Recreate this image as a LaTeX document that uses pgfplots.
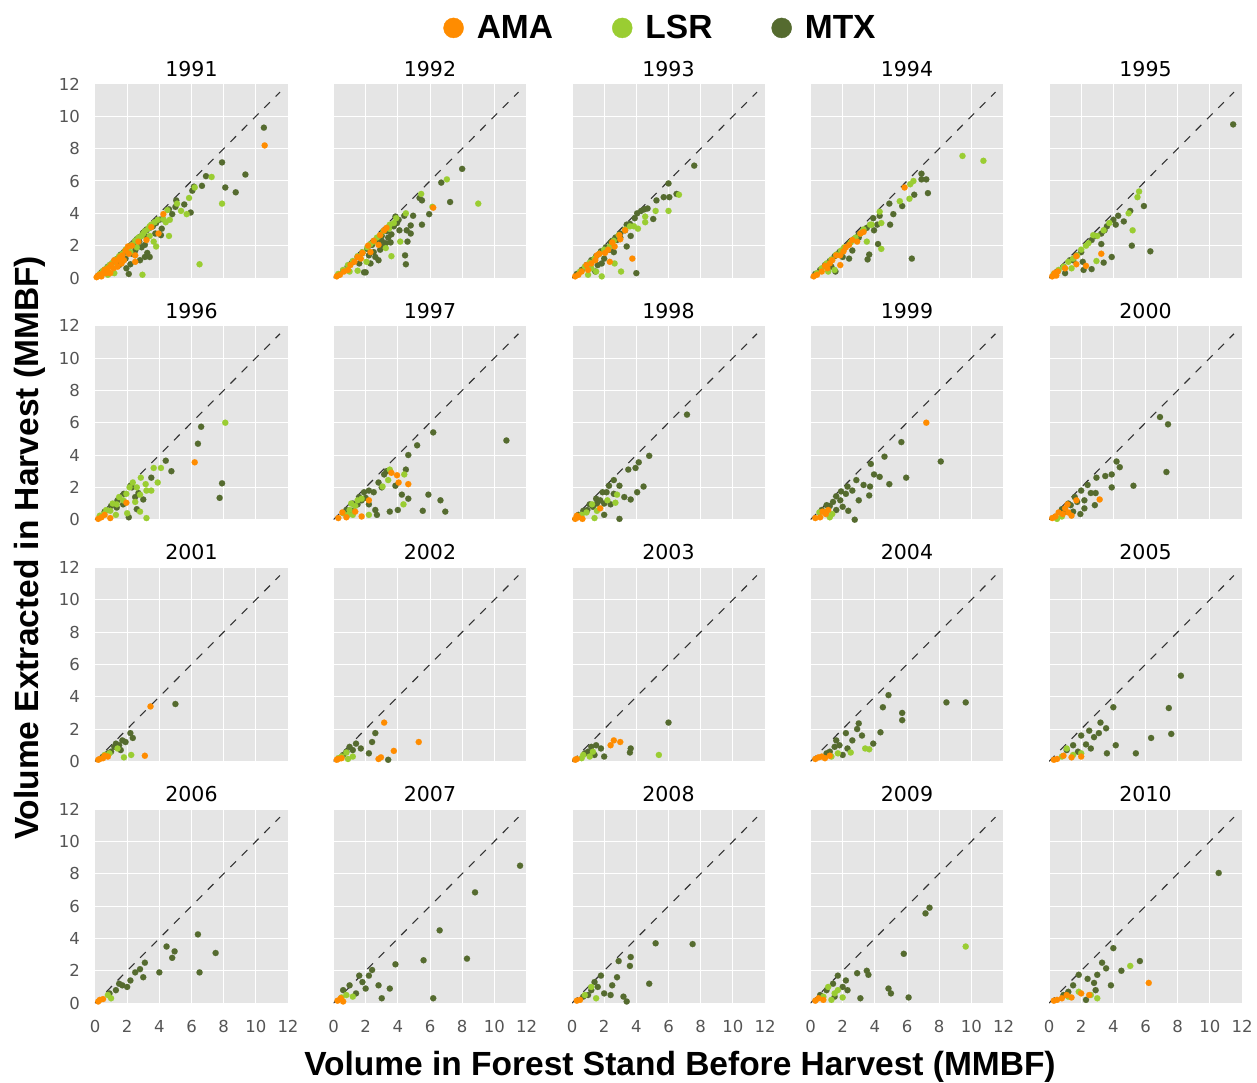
\documentclass[border=0pt]{standalone}
\usepackage{fontspec}
\setmainfont{DejaVu Sans}
\newfontfamily\labfont{Liberation Sans}
\usepackage{pgfplots}
\pgfplotsset{compat=1.18}
\usepgfplotslibrary{groupplots}
\definecolor{amac}{HTML}{FF8C00}
\definecolor{lsrc}{HTML}{9ACD32}
\definecolor{mtxc}{HTML}{556B2F}
\definecolor{bgc}{HTML}{E5E5E5}
\definecolor{tickc}{HTML}{555555}
\pgfplotsset{
  ama/.style={only marks, mark=*, mark size=3.1pt, color=amac, line width=0.1pt},
  lsr/.style={only marks, mark=*, mark size=3.1pt, color=lsrc, line width=0.1pt},
  mtx/.style={only marks, mark=*, mark size=3.1pt, color=mtxc, line width=0.1pt},
  diag/.style={no marks, color=black!80, line width=1.1pt, dash pattern=on 8pt off 8pt},
}
\newcommand\yr[4]{%
  \nextgroupplot[title={#1}]
  \addplot[mtx] coordinates {#4};
  \addplot[lsr] coordinates {#3};
  \addplot[ama] coordinates {#2};
  \addplot[diag] coordinates {(0,0) (11.5,11.5)};
}
\begin{document}
\begin{tikzpicture}
\begin{groupplot}[
  group style={group size=5 by 4, horizontal sep=45.5pt, vertical sep=47.7pt,
    xticklabels at=edge bottom, yticklabels at=edge left},
  width=193pt, height=194pt, scale only axis,
  xmin=0, xmax=12, ymin=0, ymax=12,
  xtick={0,2,...,12}, ytick={0,2,...,12},
  axis background/.style={fill=bgc},
  axis line style={draw=none},
  major tick length=0pt,
  xmajorgrids, ymajorgrids,
  grid style={white, line width=1pt},
  tick label style={font=\fontsize{16.5}{19}\selectfont, text=tickc, inner sep=0pt},
  /pgf/number format/assume math mode=true,
  yticklabel style={xshift=-15pt},
  xticklabel style={yshift=-17pt},
  title style={at={(0.5,1)}, anchor=base, yshift=1.5pt, inner sep=0pt,
    font=\fontsize{20.5}{24}\selectfont},
]
\yr{1991}
{(10.55,8.2)(4.25,3.95)(3.5,3.15)(3.95,2.75)(3.2,2.35)(2.7,2.25)(2.05,1.95)(2.5,1.4)(1.55,1.3)(1.65,0.9)(2.5,1.0)(0.75,0.5)(0.3,0.2)(1.15,0.6)(0.95,0.3)(0.1,0.05)(0.2,0.15)(0.5,0.3)(0.6,0.5)(0.8,0.6)(1.0,0.8)(1.3,1.0)(1.5,1.2)(1.7,1.4)(1.9,1.7)(2.1,1.5)(0.4,0.1)(0.7,0.3)(1.4,0.7)(1.2,1.1)(2.3,2.0)(1.8,1.1)}
{(7.25,6.25)(7.9,4.6)(6.5,0.85)(5.85,4.95)(5.1,4.6)(5.7,3.95)(5.35,4.15)(4.6,2.6)(4.4,3.45)(4.65,3.6)(4.25,3.65)(3.8,1.95)(3.65,2.25)(2.95,0.2)(3.4,3.2)(3.0,2.75)(0.3,0.25)(0.5,0.45)(0.7,0.6)(0.9,0.8)(1.1,0.95)(1.3,1.15)(1.5,1.35)(1.7,1.5)(1.9,1.75)(2.1,1.9)(2.3,2.05)(2.5,2.3)(2.7,2.5)(2.9,2.6)(3.1,2.9)(3.3,3.05)(3.5,3.3)(3.7,3.45)(3.9,3.6)(3.4,2.6)(2.6,1.9)(2.2,1.6)(1.2,0.3)(0.8,0.2)(4.5,4.2)(6.2,5.6)}
{(10.5,9.3)(7.9,7.15)(9.35,6.4)(6.9,6.3)(6.65,5.7)(6.15,5.65)(6.05,5.4)(8.1,5.6)(8.75,5.3)(5.05,4.8)(5.55,4.55)(5.0,4.4)(5.95,4.05)(4.8,3.95)(4.6,4.25)(4.2,3.65)(4.15,3.05)(4.1,2.65)(3.75,2.75)(3.2,2.55)(2.75,2.25)(3.1,2.05)(3.25,1.55)(3.4,1.3)(3.1,1.3)(2.8,1.1)(2.2,0.85)(2.1,0.25)(1.95,0.6)(0.2,0.15)(0.4,0.35)(0.6,0.5)(0.8,0.7)(1.0,0.85)(1.2,1.05)(1.4,1.2)(1.6,1.45)(1.8,1.6)(2.0,1.8)(2.2,2.0)(2.4,2.15)(2.6,2.4)(2.8,2.55)(3.0,2.8)(3.2,2.95)(3.4,3.1)(3.6,3.2)(3.8,3.4)(4.0,3.6)(2.5,1.7)(2.9,1.9)(1.9,1.2)(2.3,1.5)(1.5,0.8)}
\yr{1992}
{(6.2,4.35)(3.15,2.95)(2.9,2.65)(2.15,2.0)(2.3,1.6)(1.8,1.55)(2.8,2.05)(1.05,0.8)(0.65,0.4)(0.4,0.2)(0.2,0.1)(1.5,1.3)(1.3,1.0)(0.9,0.5)(2.5,2.3)(1.7,1.2)(3.3,3.1)}
{(9.0,4.6)(7.05,6.1)(5.45,5.2)(6.15,4.4)(4.5,4.0)(4.15,2.25)(3.6,1.35)(3.25,1.85)(3.75,3.4)(3.45,3.05)(2.9,2.65)(2.5,2.25)(2.1,1.9)(1.5,0.45)(2.05,1.0)(0.3,0.25)(0.6,0.5)(0.9,0.8)(1.2,1.05)(1.5,1.35)(1.8,1.6)(2.3,2.1)(2.7,2.5)(3.1,2.9)(3.5,3.3)(3.9,3.7)(1.0,0.4)}
{(8.0,6.75)(6.7,5.9)(7.25,4.7)(5.5,4.8)(5.35,4.95)(5.95,3.95)(5.5,3.3)(4.95,3.85)(4.8,3.25)(4.8,2.75)(4.55,2.95)(4.6,2.25)(4.45,1.4)(4.5,0.85)(4.1,2.95)(4.05,3.6)(4.4,3.85)(3.6,2.7)(3.55,2.2)(3.25,2.15)(2.9,1.75)(2.8,1.1)(2.0,0.35)(1.9,0.35)(2.6,1.3)(3.1,1.95)(3.75,3.2)(3.95,3.4)(3.85,3.8)(0.3,0.2)(0.6,0.45)(0.9,0.75)(1.2,1.0)(1.5,1.3)(1.8,1.55)(2.1,1.8)(2.4,2.05)(2.7,2.3)(3.0,2.6)(3.3,2.9)(3.6,3.2)(2.2,1.4)(2.5,1.6)(3.0,2.3)(1.6,0.9)(2.3,0.9)(3.4,2.5)}
\nextgroupplot[title={1993},
  legend style={at={(0.461,1.289)}, anchor=center, draw=none, fill=none, inner sep=0pt,
    legend columns=3, font=\labfont\bfseries\fontsize{33.5}{40}\selectfont,
    nodes={inner sep=3pt},
    /tikz/every odd column/.append style={column sep=10pt},
    /tikz/every even column/.append style={column sep=56pt}},
  legend cell align=left]
\addlegendimage{legend image code/.code={\fill[amac] (0pt,0pt) circle (10pt);}}
\addlegendentry{AMA}
\addlegendimage{legend image code/.code={\fill[lsrc] (0pt,0pt) circle (10pt);}}
\addlegendentry{LSR}
\addlegendimage{legend image code/.code={\fill[mtxc] (0pt,0pt) circle (10pt);}}
\addlegendentry{MTX}
\addplot[mtx] coordinates {(7.6,6.95)(6.0,5.85)(6.05,5.0)(5.7,5.0)(5.25,4.8)(6.5,5.2)(4.7,4.3)(4.5,4.25)(4.3,4.15)(4.05,4.0)(5.05,3.65)(4.0,0.3)(3.4,3.3)(3.3,2.95)(3.65,2.6)(3.4,1.95)(2.8,2.35)(2.35,1.75)(1.45,0.4)(1.85,0.9)(2.5,2.3)(3.0,2.5)(0.3,0.25)(0.6,0.5)(0.9,0.8)(1.2,1.1)(1.5,1.35)(1.8,1.65)(2.1,1.9)(2.4,2.2)(2.7,2.5)(3.0,2.75)(3.6,3.35)(3.9,3.7)(2.0,1.2)(2.6,1.6)(1.6,0.8)};
\addplot[lsr] coordinates {(6.65,5.15)(6.0,4.15)(5.2,4.15)(4.55,3.8)(4.55,3.45)(4.1,3.05)(3.85,3.2)(3.05,0.4)(2.65,0.9)(1.85,0.1)(1.0,0.2)(2.35,1.95)(2.9,2.65)(2.6,2.3)(0.5,0.4)(0.8,0.7)(1.1,0.95)(1.4,1.2)(1.7,1.5)(2.0,1.75)(3.3,3.0)(3.6,3.2)(1.5,0.4)(1.2,0.6)};
\addplot[ama] coordinates {(3.75,1.2)(3.3,2.95)(2.95,2.65)(2.65,1.95)(2.25,1.75)(2.05,1.55)(1.55,1.4)(2.35,1.0)(1.45,1.1)(0.9,0.8)(0.6,0.4)(0.4,0.2)(0.2,0.1)(1.7,1.5)(1.2,0.9)(2.5,2.2)(1.0,0.5)(3.0,2.4)};
\addplot[diag] coordinates {(0,0) (11.5,11.5)};
\yr{1994}
{(5.85,5.6)(3.1,2.75)(2.9,2.25)(2.4,2.05)(2.05,1.65)(1.85,1.4)(1.35,1.1)(1.85,0.8)(1.05,0.6)(0.7,0.4)(0.4,0.2)(0.2,0.1)(2.6,2.35)(2.2,1.9)(1.6,1.4)(1.2,0.9)(0.9,0.75)(3.3,2.85)}
{(9.45,7.55)(10.75,7.25)(6.4,6.0)(6.2,5.8)(6.15,4.9)(5.55,4.75)(4.3,4.1)(4.4,3.4)(3.8,3.3)(4.4,1.8)(3.5,2.25)(3.1,2.75)(2.5,2.2)(2.1,1.9)(0.4,0.3)(0.7,0.6)(1.0,0.9)(1.3,1.15)(1.6,1.45)(1.9,1.7)(2.8,2.5)(3.3,3.0)(3.7,3.3)(1.5,0.5)(1.1,0.4)}
{(6.9,6.45)(7.2,6.1)(6.9,6.1)(6.45,5.15)(7.3,5.25)(5.7,4.45)(4.9,4.6)(5.15,3.95)(4.95,3.3)(4.3,3.85)(3.9,3.7)(4.15,3.3)(3.95,2.95)(4.2,2.1)(3.65,1.45)(3.55,1.15)(6.3,1.2)(3.3,2.95)(3.0,2.5)(2.4,1.2)(1.55,0.4)(0.3,0.25)(0.6,0.5)(0.9,0.8)(1.2,1.05)(1.5,1.35)(1.8,1.6)(2.1,1.85)(2.4,2.15)(2.7,2.4)(3.0,2.7)(3.5,3.1)(2.0,1.3)(2.6,1.7)(1.3,0.7)}
\yr{1995}
{(3.25,1.5)(2.3,0.75)(1.7,1.35)(1.7,0.85)(0.55,0.4)(0.35,0.3)(0.2,0.1)(0.45,0.15)(1.0,0.6)}
{(5.6,5.35)(5.5,5.0)(4.95,4.0)(5.2,2.95)(3.75,3.4)(3.4,2.95)(2.75,2.65)(2.45,2.15)(2.95,1.05)(2.0,1.75)(1.75,1.4)(1.2,1.0)(0.6,0.5)(0.3,0.25)(2.3,2.0)(3.0,2.6)(1.5,1.2)(0.9,0.7)(1.4,0.6)}
{(11.45,9.5)(5.9,4.45)(5.05,4.15)(4.3,3.85)(4.65,3.5)(4.15,3.3)(5.15,2.0)(6.3,1.65)(3.9,1.3)(3.4,0.95)(2.65,0.55)(3.25,2.1)(3.25,2.75)(2.9,2.6)(2.15,0.5)(1.5,1.1)(2.1,1.0)(3.45,2.95)(2.65,2.35)(0.5,0.4)(0.9,0.7)(1.3,1.1)(1.7,1.4)(2.0,1.6)(1.0,0.3)(3.6,3.2)(4.0,3.6)}
\yr{1996}
{(6.2,3.55)(1.95,1.05)(0.95,0.1)(0.4,0.15)(0.2,0.05)(0.6,0.3)}
{(8.1,6.0)(3.65,3.2)(4.1,3.2)(2.85,2.6)(3.15,2.2)(3.9,2.3)(3.5,1.8)(3.2,1.8)(2.8,1.55)(2.5,1.1)(2.8,0.5)(3.2,0.1)(1.95,1.6)(2.15,2.0)(1.75,1.2)(1.35,0.95)(0.95,0.55)(0.55,0.35)(2.35,2.3)(1.5,1.4)(1.1,1.0)(0.7,0.6)(0.3,0.25)(2.0,0.4)(1.3,0.3)(2.6,2.0)}
{(6.6,5.75)(6.4,4.7)(4.4,3.65)(4.75,3.0)(3.5,2.6)(2.3,2.0)(2.7,1.65)(3.0,1.25)(7.9,2.25)(7.75,1.35)(2.6,0.65)(2.1,0.15)(1.75,0.95)(1.35,0.75)(2.2,2.1)(1.8,1.6)(1.4,1.2)(1.0,0.85)(0.6,0.5)(2.5,1.4)}
\yr{1997}
{(3.6,2.9)(3.95,2.75)(4.05,2.3)(4.65,2.2)(2.2,1.2)(1.75,0.2)(1.35,0.5)(0.55,0.45)(0.8,0.15)(0.3,0.1)}
{(4.4,2.8)(3.4,2.45)(3.05,2.05)(4.35,0.95)(2.2,0.3)(1.75,1.3)(1.35,0.85)(1.0,0.6)(1.2,0.3)(0.6,0.4)(1.1,1.0)(1.5,1.2)(0.9,0.3)(3.5,3.1)}
{(10.75,4.9)(6.2,5.4)(5.2,4.6)(4.65,4.0)(4.5,3.1)(3.15,2.8)(2.8,2.3)(3.0,2.0)(3.85,2.1)(4.25,1.55)(4.65,1.3)(5.9,1.55)(6.65,1.2)(6.95,0.5)(5.55,0.55)(4.0,0.6)(3.5,0.5)(2.6,0.6)(2.7,0.3)(2.2,1.8)(2.0,1.35)(1.75,1.2)(1.5,0.95)(1.15,0.55)(2.2,0.95)(1.9,1.7)(1.6,1.4)(1.2,1.0)(0.8,0.6)(3.3,3.0)(2.5,1.7)}
\yr{1998}
{(1.75,0.7)(0.4,0.15)(0.65,0.05)(0.2,0.05)(0.3,0.25)}
{(2.8,1.55)(2.7,1.05)(1.25,0.95)(1.55,0.55)(0.9,0.45)(1.4,0.1)(2.2,1.2)(0.6,0.3)}
{(7.15,6.5)(4.8,3.95)(4.15,3.55)(3.95,3.2)(3.5,3.1)(2.6,2.45)(2.95,2.1)(4.45,2.05)(4.05,1.7)(3.65,1.25)(3.25,1.4)(2.95,0.05)(2.0,0.3)(2.3,2.1)(2.15,1.7)(1.75,1.2)(1.55,1.0)(1.3,0.8)(0.95,0.6)(2.4,0.95)(1.9,1.7)(1.5,1.3)(1.1,0.95)(0.7,0.55)(0.4,0.3)(2.0,1.0)(2.6,1.6)}
\yr{1999}
{(7.2,6.0)(0.95,0.35)(0.6,0.15)(0.3,0.1)(0.75,0.5)(1.1,0.6)}
{(1.35,0.35)(0.55,0.45)(1.0,0.5)(1.2,0.15)}
{(8.1,3.6)(5.65,4.8)(4.6,3.9)(3.75,3.45)(3.95,2.8)(4.3,2.65)(5.95,2.6)(4.9,2.2)(3.7,2.05)(3.65,1.5)(3.3,2.15)(2.85,2.45)(3.0,1.2)(2.35,0.55)(2.75,0.0)(2.2,1.6)(1.85,1.2)(1.4,1.1)(1.2,0.85)(2.6,1.8)(1.9,1.75)(1.6,1.45)(1.0,0.9)(0.7,0.6)(2.3,2.05)(2.0,0.8)(1.6,0.6)}
\yr{2000}
{(3.15,1.25)(1.7,1.2)(1.15,0.95)(0.85,0.35)(1.2,0.45)(1.4,0.25)(0.4,0.2)(0.6,0.45)(0.2,0.1)(1.0,0.7)}
{(0.5,0.05)(0.8,0.2)}
{(6.9,6.35)(7.4,5.9)(7.3,2.95)(4.2,3.6)(4.4,3.25)(3.9,2.8)(3.5,2.7)(2.95,2.6)(3.9,2.0)(5.25,2.1)(2.4,2.15)(2.6,1.65)(2.9,1.65)(2.2,1.2)(2.85,0.9)(2.2,0.7)(1.95,0.35)(1.75,1.1)(1.35,0.9)(1.0,0.5)(2.0,1.8)(1.6,1.4)(1.2,1.0)(0.8,0.65)(1.5,0.5)}
\yr{2001}
{(3.45,3.4)(3.1,0.35)(0.3,0.15)(0.5,0.2)(0.8,0.3)(0.2,0.1)(0.6,0.35)}
{(2.25,0.4)(1.8,0.25)(0.9,0.5)(0.6,0.4)(1.4,0.8)}
{(5.0,3.55)(2.2,1.75)(2.35,1.45)(1.7,1.3)(1.5,1.0)(1.2,0.9)(1.0,0.6)(0.8,0.5)(1.6,0.7)(0.5,0.3)(1.3,1.1)(1.9,1.2)}
\yr{2002}
{(3.15,2.4)(5.3,1.2)(3.75,0.65)(2.95,0.25)(2.8,0.15)(0.3,0.15)(0.2,0.1)(0.5,0.2)}
{(0.8,0.55)(1.2,0.3)(0.5,0.3)(0.9,0.15)(0.3,0.2)}
{(2.6,1.75)(2.4,1.2)(1.7,0.8)(1.4,1.1)(1.0,0.9)(0.8,0.6)(1.2,0.7)(3.4,0.1)(0.6,0.4)(2.2,0.5)}
\yr{2003}
{(2.6,1.3)(3.0,1.2)(2.4,1.0)(0.2,0.1)(0.3,0.15)}
{(5.4,0.4)(1.3,0.6)(1.1,0.3)(0.7,0.4)(0.6,0.2)}
{(6.0,2.4)(3.65,0.8)(3.6,0.55)(1.2,0.9)(1.5,1.0)(1.0,0.6)(1.8,0.8)(0.8,0.5)(1.4,0.4)(2.0,0.3)}
\yr{2004}
{(0.5,0.25)(0.7,0.3)(1.2,0.35)(0.3,0.15)(0.9,0.2)}
{(3.4,0.8)(3.65,0.75)(2.5,0.55)(1.3,0.3)(1.7,0.5)}
{(4.85,4.1)(4.5,3.35)(5.7,3.0)(5.7,2.55)(8.45,3.65)(9.65,3.65)(3.0,2.35)(3.2,1.6)(4.35,1.8)(2.2,1.75)(2.6,1.3)(1.8,1.0)(1.5,0.9)(1.2,0.6)(2.3,0.8)(1.0,0.5)(2.9,2.0)(3.9,1.1)(1.6,1.3)(2.0,0.4)}
\yr{2005}
{(0.9,0.35)(1.4,0.25)(0.5,0.15)(2.0,0.3)(0.3,0.1)}
{(1.1,0.8)(2.0,0.5)(1.5,0.4)(0.8,0.3)}
{(8.2,5.3)(7.45,3.3)(7.6,1.7)(6.35,1.45)(4.0,3.35)(3.2,2.4)(3.55,2.05)(3.1,1.75)(2.5,1.9)(3.6,0.5)(2.3,1.05)(4.15,1.0)(2.0,1.6)(1.5,1.0)(1.1,0.7)(2.8,1.5)(5.4,0.5)(1.8,0.6)(2.6,0.8)}
\yr{2006}
{(0.3,0.2)(0.5,0.25)(0.2,0.1)}
{(0.8,0.5)(1.0,0.3)}
{(6.4,4.25)(6.5,1.9)(7.5,3.1)(4.45,3.5)(4.95,3.2)(4.8,2.8)(4.0,1.9)(3.1,2.5)(2.5,1.9)(2.8,2.1)(2.2,1.4)(1.7,1.1)(1.3,0.8)(0.9,0.6)(1.5,1.2)(2.0,1.0)(3.0,1.6)}
\yr{2007}
{(0.25,0.15)(0.45,0.3)(0.6,0.1)}
{(0.8,0.5)(1.2,0.4)(0.5,0.35)}
{(11.6,8.5)(8.8,6.85)(8.3,2.75)(6.6,4.5)(6.2,0.3)(5.6,2.65)(3.85,2.4)(3.5,0.9)(2.4,2.05)(2.2,1.7)(1.6,1.7)(1.8,1.3)(2.8,1.1)(1.0,1.1)(0.6,0.8)(1.4,0.6)(2.0,0.9)(3.0,0.3)}
\yr{2008}
{(0.3,0.15)(0.5,0.2)}
{(1.2,1.0)(0.8,0.5)(1.5,0.3)}
{(7.5,3.65)(5.2,3.7)(3.65,2.85)(3.6,2.3)(2.9,2.6)(2.8,1.6)(2.5,1.1)(1.8,1.7)(1.6,1.0)(1.2,0.8)(2.4,0.5)(3.2,0.4)(4.8,1.2)(1.0,0.5)(0.7,0.4)(2.0,0.6)(3.4,0.1)(1.4,1.3)}
\yr{2009}
{(0.5,0.3)(0.8,0.2)(0.3,0.15)}
{(9.65,3.5)(2.0,0.35)(1.5,0.6)(1.1,1.0)(1.7,0.8)(0.8,0.4)(1.3,0.2)}
{(7.4,5.9)(7.15,5.55)(5.8,3.05)(6.1,0.35)(4.85,0.9)(5.0,0.6)(3.6,1.75)(3.5,2.0)(2.9,1.85)(2.3,0.8)(3.1,0.3)(2.2,1.4)(1.7,1.7)(1.4,1.2)(1.0,0.8)(0.6,0.5)(2.0,1.0)(1.5,0.4)}
\yr{2010}
{(6.2,1.25)(2.5,0.5)(2.0,0.6)(1.4,0.35)(0.8,0.3)(0.5,0.2)(0.3,0.15)(1.1,0.5)}
{(5.05,2.3)(3.0,0.3)(1.85,0.7)(2.6,0.5)(1.2,0.4)}
{(10.55,8.05)(4.0,3.4)(5.65,2.6)(3.55,2.15)(3.0,1.75)(2.8,1.25)(1.85,1.75)(1.5,1.1)(2.9,0.8)(3.85,1.1)(2.3,0.2)(1.2,0.7)(0.9,0.5)(2.4,1.5)(4.5,2.0)(3.3,2.5)}
\end{groupplot}
\pgfresetboundingbox
\path (group c1r1.north west) ++(-95pt,84pt) rectangle ++(1257pt,-1082pt);
\node[font=\labfont\bfseries\fontsize{33.5}{40}\selectfont, inner sep=0pt]
  at ([shift={(585pt,-983pt)}]group c1r1.north west) {Volume in Forest Stand Before Harvest (MMBF)};
\node[font=\labfont\bfseries\fontsize{33.5}{40}\selectfont, inner sep=0pt, rotate=90]
  at ([shift={(-65pt,-464pt)}]group c1r1.north west) {Volume Extracted in Harvest (MMBF)};
\end{tikzpicture}
\end{document}
